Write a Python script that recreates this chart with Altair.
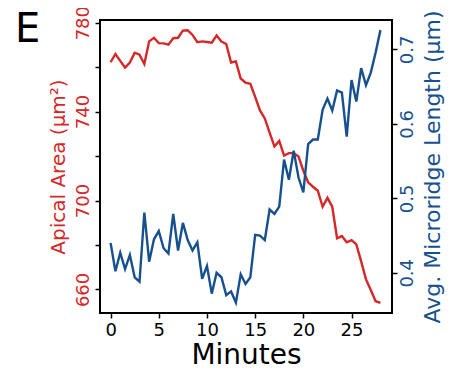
import altair as alt
import pandas as pd

minutes = [0, 0.5, 1, 1.5, 2, 2.5, 3, 3.5, 4, 4.5, 5, 5.5, 6, 6.5, 7, 7.5, 8, 8.5, 9, 9.5,
           10, 10.5, 11, 11.5, 12, 12.5, 13, 13.5, 14, 14.5, 15, 15.5, 16, 16.5, 17, 17.5,
           18, 18.5, 19, 19.5, 20, 20.5, 21, 21.5, 22, 22.5, 23, 23.5, 24, 24.5, 25, 25.5,
           26, 26.5, 27, 27.5, 28]

apical_area = [762.2, 765.9, 762.8, 759.8, 762.1, 766.5, 765.6, 761.4, 771.6, 773.2,
               770.8, 770.7, 770.1, 773.0, 773.2, 776.4, 776.6, 774.5, 771.2, 771.6,
               771.3, 771.0, 774.2, 771.5, 770.4, 762.1, 762.6, 754.9, 753.0, 752.5,
               746.6, 740.5, 736.9, 730.5, 724.3, 726.8, 720.2, 721.3, 721.3, 719.8,
               713.4, 708.2, 706.2, 704.4, 697.2, 701.2, 697.2, 683.0, 684.0, 681.2,
               682.2, 680.3, 672.6, 664.5, 659.7, 654.7, 653.9]

ridge_length = [0.440, 0.402, 0.427, 0.405, 0.424, 0.394, 0.388, 0.481, 0.415, 0.445,
                0.456, 0.433, 0.426, 0.479, 0.430, 0.467, 0.444, 0.430, 0.441, 0.392,
                0.409, 0.372, 0.400, 0.394, 0.370, 0.375, 0.360, 0.398, 0.385, 0.394,
                0.451, 0.450, 0.444, 0.485, 0.479, 0.489, 0.552, 0.525, 0.564, 0.528,
                0.508, 0.573, 0.579, 0.579, 0.619, 0.634, 0.618, 0.645, 0.642, 0.583,
                0.659, 0.630, 0.675, 0.652, 0.669, 0.696, 0.726]

panel_label = ["E"]

x_ticks = [0, 5, 10, 15, 20, 25]
left_ticks = [660, 680, 700, 720, 740, 760, 780]
right_ticks = [0.4, 0.5, 0.6, 0.7]

RED = "#d62728"
BLUE = "#17508f"
FONT = "DejaVu Sans"

df = pd.DataFrame({"Minutes": minutes, "Area": apical_area, "Length": ridge_length})

base = alt.Chart(df).encode(
    x=alt.X("Minutes:Q",
            scale=alt.Scale(domain=[-1.1, 29.2], nice=False, zero=False),
            axis=alt.Axis(values=x_ticks, title="Minutes", labelFontSize=18,
                          titleFontSize=28, labelPadding=3, titlePadding=2,
                          titleFontWeight="normal", labelColor="black",
                          titleColor="black", labelFlush=False))
)

red = base.mark_line(color=RED, strokeWidth=2.4).encode(
    y=alt.Y("Area:Q",
            scale=alt.Scale(domain=[649.4, 781.2], nice=False, zero=False),
            axis=alt.Axis(orient="left", values=left_ticks, format="d",
                          labelExpr="datum.value % 40 == 0 ? '' : datum.label",
                          title="Apical Area (μm²)", labelColor=RED, titleColor=RED,
                          labelFontSize=18, titleFontSize=20, labelAngle=270,
                          labelAlign="center", labelBaseline="bottom",
                          labelPadding=3, titlePadding=6, titleFontWeight="normal"))
)

blue = base.mark_line(color=BLUE, strokeWidth=2.4).encode(
    y=alt.Y("Length:Q",
            scale=alt.Scale(domain=[0.346, 0.7396], nice=False, zero=False),
            axis=alt.Axis(orient="right", values=right_ticks, format=".1f",
                          title="Avg. Microridge Length (μm)", labelColor=BLUE,
                          titleColor=BLUE, labelFontSize=18, titleFontSize=22,
                          labelAngle=270, labelAlign="center", labelBaseline="top",
                          titleAngle=270, titleBaseline="top",
                          labelPadding=1, titlePadding=6, titleFontWeight="normal"))
)

label = alt.Chart(pd.DataFrame({"label": panel_label})).mark_text(
    font=FONT, fontSize=40, color="black", align="left", baseline="alphabetic"
).encode(x=alt.value(-85), y=alt.value(22), text="label:N")

chart = alt.layer(red, blue, label).resolve_scale(y="independent").properties(
    width=292, height=293,
    autosize=alt.AutoSizeParams(type="none"),
    padding={"left": 92, "top": 12, "right": 66, "bottom": 56},
).configure(font=FONT).configure_view(
    stroke="black", strokeWidth=2
).configure_axis(
    grid=False, domain=False, tickColor="black", tickWidth=1.5, tickSize=5,
    labelFont=FONT, titleFont=FONT
)

chart.save("out.html", embed_options={"renderer": "svg", "actions": False})
